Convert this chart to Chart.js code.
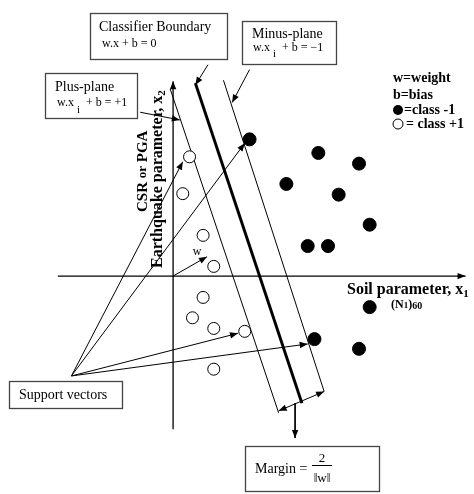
<!DOCTYPE html>
<html>
<head>
<meta charset="utf-8">
<script src="https://cdn.jsdelivr.net/npm/chart.js@4/dist/chart.umd.min.js"></script>
<style>
  body { margin: 0; background: #fff; }
  #wrap { width: 474px; height: 494px; }
</style>
</head>
<body>
<div id="wrap"><canvas id="svm-chart" width="474" height="494"></canvas></div>
<script>
  // data, origin = where the two axes cross
  var classPlusX = [17, 10, 31, 42, 31, 20, 42, 74, 42];
  var classPlusY = [123, 85, 42, 10, -22, -43, -54, -57, -96];
  var classMinusX = [79, 150, 192, 117, 171, 203, 139, 160, 203, 146, 192];
  var classMinusY = [141, 127, 116, 95, 84, 53, 31, 31, -32, -65, -75];

  var boundaryX = [23, 133], boundaryY = [199, -131];
  var plusPlaneX = [-3, 109], plusPlaneY = [193, -141];
  var minusPlaneX = [52, 156], minusPlaneY = [202, -119];

  var axis1X = [-119, 302], axis1Y = [0, 0];
  var axis2X = [0, 0], axis2Y = [-158, 201];
  var weightX = [0, 35], weightY = [0, 20];

  // support vector pointers
  var supportFromX = -105, supportFromY = -103;
  var supportToX = [10, 74, 67, 139];
  var supportToY = [118, 137, -59, -70];

  var marginX = [109, 156], marginY = [-139, -119];
  var marginDownX = [126, 126], marginDownY = [-131, -167];
  var boundaryPtrX = [36, 23], boundaryPtrY = [218, 197];
  var plusPtrX = [-34, 7], plusPtrY = [169, 161];
  var minusPtrX = [79, 61], minusPtrY = [213, 179];

  function zip(xs, ys) {
    return xs.map(function (x, i) { return { x: x, y: ys[i] }; });
  }

  function lineSet(xs, ys, width, arrow) {
    return {
      data: zip(xs, ys),
      showLine: true,
      borderColor: '#000',
      borderWidth: width,
      pointRadius: 0,
      fill: false,
      arrow: arrow
    };
  }

  var datasets = [
    { data: zip(classPlusX, classPlusY), pointRadius: 6, pointBackgroundColor: '#fff', pointBorderColor: '#000', pointBorderWidth: 1 },
    { data: zip(classMinusX, classMinusY), pointRadius: 6.5, pointBackgroundColor: '#000', pointBorderColor: '#000', pointBorderWidth: 1 },
    lineSet(boundaryX, boundaryY, 3),
    lineSet(plusPlaneX, plusPlaneY, 1),
    lineSet(minusPlaneX, minusPlaneY, 1),
    lineSet(axis1X, axis1Y, 1.3, 'end'),
    lineSet(axis2X, axis2Y, 1.3, 'end'),
    lineSet(weightX, weightY, 1, 'end'),
    lineSet(marginX, marginY, 1, 'both'),
    lineSet(marginDownX, marginDownY, 1, 'end'),
    lineSet(boundaryPtrX, boundaryPtrY, 1, 'end'),
    lineSet(plusPtrX, plusPtrY, 1, 'end'),
    lineSet(minusPtrX, minusPtrY, 1, 'end')
  ];
  supportToX.forEach(function (x, i) {
    datasets.push(lineSet([supportFromX, x], [supportFromY, supportToY[i]], 1, 'end'));
  });

  function arrowHead(ctx, x0, y0, x1, y1) {
    var ang = Math.atan2(y1 - y0, x1 - x0), len = 8, half = 3.2;
    ctx.save();
    ctx.translate(x1, y1);
    ctx.rotate(ang);
    ctx.beginPath();
    ctx.moveTo(0, 0);
    ctx.lineTo(-len, -half);
    ctx.lineTo(-len, half);
    ctx.closePath();
    ctx.fillStyle = '#000';
    ctx.fill();
    ctx.restore();
  }

  var serif = '"Liberation Serif", "Times New Roman", serif';

  function txt(ctx, s, x, y, size, bold, align) {
    ctx.font = (bold ? 'bold ' : '') + size + 'px ' + serif;
    ctx.textAlign = align || 'left';
    ctx.fillText(s, x, y);
  }

  // runs of [text, size, dy], laid out one after another
  function runs(ctx, parts, x, y, bold) {
    ctx.textAlign = 'left';
    parts.forEach(function (p) {
      ctx.font = (bold ? 'bold ' : '') + p[1] + 'px ' + serif;
      ctx.fillText(p[0], x, y + (p[2] || 0));
      x += ctx.measureText(p[0]).width;
    });
  }

  function box(ctx, x, y, w, h) {
    ctx.fillStyle = '#fff';
    ctx.fillRect(x, y, w, h);
    ctx.strokeStyle = '#444';
    ctx.lineWidth = 1.3;
    ctx.strokeRect(x + 0.5, y + 0.5, w, h);
    ctx.fillStyle = '#000';
  }

  var overlay = {
    id: 'overlay',
    afterDatasetsDraw: function (chart) {
      var ctx = chart.ctx;
      chart.data.datasets.forEach(function (ds, i) {
        if (!ds.arrow) return;
        var pts = chart.getDatasetMeta(i).data;
        var a = pts[0], b = pts[pts.length - 1];
        arrowHead(ctx, a.x, a.y, b.x, b.y);
        if (ds.arrow === 'both') arrowHead(ctx, b.x, b.y, a.x, a.y);
      });

      ctx.save();
      ctx.textBaseline = 'middle';

      box(ctx, 90, 13, 137, 46);
      txt(ctx, 'Classifier Boundary', 99, 27, 14);
      txt(ctx, 'w.x + b = 0', 102, 44, 12);

      box(ctx, 45, 73, 92, 45);
      txt(ctx, 'Plus-plane', 55, 87, 14);
      runs(ctx, [['w.x ', 12], ['i', 11, 7], ['  + b = +1', 12]], 57, 103);

      box(ctx, 242, 21, 94, 43);
      txt(ctx, 'Minus-plane', 252, 34, 14);
      runs(ctx, [['w.x ', 12], ['i', 11, 6], ['  + b = \u22121', 12]], 253, 48);

      box(ctx, 9, 381, 113, 27);
      txt(ctx, 'Support vectors', 19, 395, 14);

      box(ctx, 245, 446, 134, 45);
      txt(ctx, 'Margin =', 255, 469, 14);
      txt(ctx, '2', 322, 459, 13, false, 'center');
      ctx.fillRect(312, 465, 20, 1);
      txt(ctx, '\u2016w\u2016', 322, 479, 13, false, 'center');

      // legend
      txt(ctx, 'w=weight', 393, 78, 14, true);
      txt(ctx, 'b=bias', 393, 95, 14, true);
      ctx.beginPath();
      ctx.arc(398, 110, 5, 0, Math.PI * 2);
      ctx.fill();
      txt(ctx, '=class -1', 404, 110, 14, true);
      ctx.beginPath();
      ctx.arc(398, 124, 5, 0, Math.PI * 2);
      ctx.lineWidth = 1;
      ctx.strokeStyle = '#000';
      ctx.stroke();
      txt(ctx, '= class +1', 406, 124, 14, true);

      txt(ctx, 'w', 197, 252, 12, false, 'center');

      // axis titles
      runs(ctx, [['Soil parameter, x', 16], ['1', 11, 4]], 347, 290, true);
      runs(ctx, [['(N', 12], ['1', 9, 1], [')', 12], ['60', 10, 1]], 391, 305, true);

      ctx.save();
      ctx.translate(143, 212);
      ctx.rotate(-Math.PI / 2);
      runs(ctx, [['CSR ', 15], ['or', 13], [' PGA', 15]], 0, 0, true);
      ctx.restore();
      ctx.save();
      ctx.translate(158, 268);
      ctx.rotate(-Math.PI / 2);
      runs(ctx, [['Earthquake parameter, x', 16], ['2', 11, 4]], 0, 0, true);
      ctx.restore();

      ctx.restore();
    }
  };

  var svmChart = new Chart(document.getElementById('svm-chart').getContext('2d'), {
    type: 'scatter',
    data: { datasets: datasets },
    options: {
      responsive: false,
      animation: false,
      layout: { padding: 0 },
      plugins: { legend: { display: false }, tooltip: { enabled: false } },
      scales: {
        x: { type: 'linear', min: -171, max: 303, display: false },
        y: { type: 'linear', min: -217, max: 277, display: false }
      }
    },
    plugins: [overlay]
  });
</script>
</body>
</html>
